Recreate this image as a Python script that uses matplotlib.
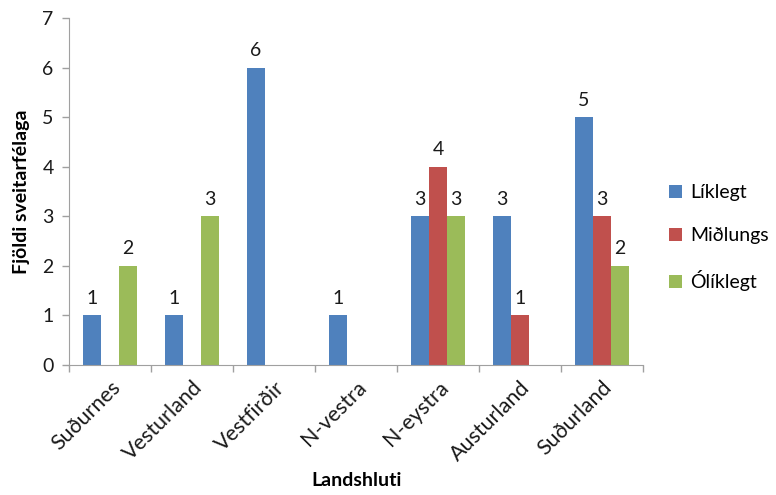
import numpy as np
import matplotlib.pyplot as plt
from matplotlib.patches import Patch

plt.rcParams['font.family'] = ['Lato', 'DejaVu Sans']

# Landshlutar og fjöldi sveitarfélaga eftir mati
regions = ['Suðurnes', 'Vesturland', 'Vestfirðir', 'N-vestra', 'N-eystra', 'Austurland', 'Suðurland']
likely = [1, 1, 6, 1, 3, 3, 5]
medium = [None, None, None, None, 4, 1, 3]
unlikely = [2, 3, None, None, 3, None, 2]

series = [('Líklegt', likely, '#4F81BD'),
          ('Miðlungs', medium, '#C0504D'),
          ('Ólíklegt', unlikely, '#9BBB59')]

fs = 14
fig = plt.figure(figsize=(7.76, 4.95), dpi=100)
ax = fig.add_axes([0.0889, 0.2626, 0.7397, 0.7010])

w = 1 / 4.5
centers = np.arange(len(regions)) + 0.5
for i, (name, vals, color) in enumerate(series):
    xs = centers + (i - 1) * w
    for x, v in zip(xs, vals):
        if v is None:
            continue
        ax.bar(x, v, width=w, color=color, edgecolor='none')
        ax.text(x, v + 0.17, str(v), ha='center', va='bottom', fontsize=fs, color='#1a1a1a')

ax.set_xlim(0, len(regions))
ax.set_ylim(0, 7)
ax.set_yticks(range(0, 8))
ax.tick_params(axis='y', labelsize=fs, colors='#a0a0a0', labelcolor='#1a1a1a', length=5, width=1, pad=6)

ax.set_xticks(range(0, len(regions) + 1))
ax.set_xticklabels([])
ax.tick_params(axis='x', which='major', colors='#a0a0a0', length=5, width=1)
ax.set_xticks(centers, minor=True)
ax.set_xticklabels(regions, minor=True, rotation=45, ha='right', rotation_mode='anchor', fontsize=15.5, color='#1a1a1a')
ax.tick_params(axis='x', which='minor', length=0, pad=9)

for s in ['top', 'right']:
    ax.spines[s].set_visible(False)
for s in ['left', 'bottom']:
    ax.spines[s].set_color('#a0a0a0')

ax.set_ylabel('Fjöldi sveitarfélaga', fontsize=fs, fontweight='bold', labelpad=9)
fig.text(0.459, 0.03, 'Landshluti', ha='center', va='center', fontsize=fs, fontweight='bold')

handles = [Patch(facecolor=c, edgecolor='none', label=n) for n, _, c in series]
fig.legend(handles=handles, loc='center left', bbox_to_anchor=(0.862, 0.52), frameon=False,
           fontsize=fs, handlelength=0.65, handleheight=0.65, handletextpad=0.45, labelspacing=1.35,
           borderaxespad=0, borderpad=0)

fig.savefig('out.png', dpi=100)
